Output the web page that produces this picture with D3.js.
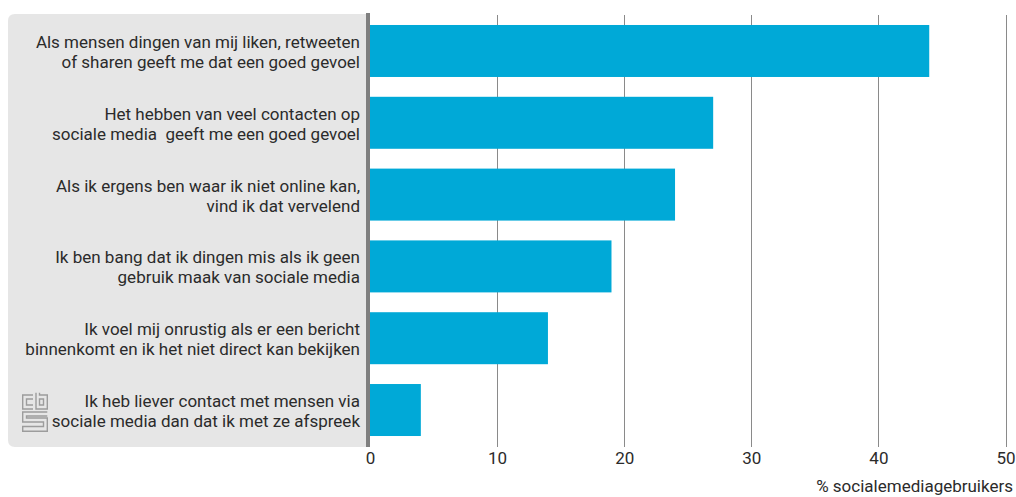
<!DOCTYPE html>
<html>
<head>
<meta charset="utf-8">
<script src="https://cdn.jsdelivr.net/npm/d3@7"></script>
<style>
  html, body { margin: 0; padding: 0; background: #fff; }
  svg { display: block; font-family: Roboto, "Noto Sans", sans-serif; }
  text { white-space: pre; }
</style>
</head>
<body>
<svg id="chart" width="1016" height="497"></svg>
<script>
// Statements (two lines each) and share of social media users agreeing (%)
const labelLine1 = [
  "Als mensen dingen van mij liken, retweeten",
  "Het hebben van veel contacten op",
  "Als ik ergens ben waar ik niet online kan,",
  "Ik ben bang dat ik dingen mis als ik geen",
  "Ik voel mij onrustig als er een bericht",
  "Ik heb liever contact met mensen via"
];
const labelLine2 = [
  "of sharen geeft me dat een goed gevoel",
  "sociale media  geeft me een goed gevoel",
  "vind ik dat vervelend",
  "gebruik maak van sociale media",
  "binnenkomt en ik het niet direct kan bekijken",
  "sociale media dan dat ik met ze afspreek"
];
const values = [44, 27, 24, 19, 14, 4];
const ticks = [0, 10, 20, 30, 40, 50];
const axisTitle = "% socialemediagebruikers";

const svg = d3.select("#chart");
const ids = values.map((_, i) => i);
const fs = 17;

const x = d3.scaleLinear().domain([0, 50]).range([370, 1005.5]);
const y = d3.scaleBand().domain(ids).range([14, 447])
  .paddingInner(0.276).paddingOuter(0.153);

// Grey label panel with rounded left corners
const px0 = 8, px1 = 367, py0 = 14, py1 = 447, r = 7;
svg.append("path")
  .attr("d", `M${px1},${py0} H${px0 + r} Q${px0},${py0} ${px0},${py0 + r} V${py1 - r} Q${px0},${py1} ${px0 + r},${py1} H${px1} Z`)
  .attr("fill", "#e6e6e6");

// Vertical gridlines
svg.append("g").selectAll("line")
  .data(ticks.filter(t => t > 0))
  .join("line")
  .attr("x1", d => Math.round(x(d)) + 0.5).attr("x2", d => Math.round(x(d)) + 0.5)
  .attr("y1", 15).attr("y2", 447)
  .attr("stroke", "#8a8a8a").attr("stroke-width", 1);

// Bars
svg.append("g").selectAll("rect")
  .data(values)
  .join("rect")
  .attr("x", x(0))
  .attr("y", (d, i) => y(i))
  .attr("width", d => x(d) - x(0))
  .attr("height", y.bandwidth())
  .attr("fill", "#00a9d7");

// Baseline axis
svg.append("line")
  .attr("x1", 368).attr("x2", 368)
  .attr("y1", 13).attr("y2", 447)
  .attr("stroke", "#7f7f7f").attr("stroke-width", 4);

// Category labels
const lab = svg.append("g")
  .attr("font-size", fs).attr("fill", "#2b2b2b").attr("text-anchor", "end");
ids.forEach(i => {
  const cy = y(i) + y.bandwidth() / 2;
  lab.append("text").attr("x", 360).attr("y", cy - 3).text(labelLine1[i]);
  lab.append("text").attr("x", 360).attr("y", cy + 17).text(labelLine2[i]);
});

// X axis tick labels
const xAxis = d3.axisBottom(x).tickValues(ticks).tickSize(0).tickPadding(0).tickFormat(d3.format("d"));
const ax = svg.append("g").attr("transform", "translate(0,452)").call(xAxis);
ax.select(".domain").remove();
ax.selectAll("text")
  .attr("font-size", fs).attr("fill", "#2b2b2b")
  .attr("font-family", "Roboto, 'Noto Sans', sans-serif");

// Axis title
svg.append("text")
  .attr("x", 1013).attr("y", 492)
  .attr("text-anchor", "end").attr("font-size", fs).attr("fill", "#2b2b2b")
  .text(axisTitle);

// Logo mark
const logo = svg.append("g")
  .attr("transform", "translate(22,392)")
  .attr("fill", "none").attr("stroke", "#9c9c9c").attr("stroke-width", 1.4);
logo.append("path").attr("d", "M11,3 H0.7 V17 H11 M11,7 H4.5 V13 H11");
logo.append("path").attr("d", "M14,0.7 V17 H25.3 V3 H17.5 V0.7 M17.5,7 V13 H21.5 V7 Z");
logo.append("path").attr("d",
  "M25.3,20 H0.7 V30 H21.5 V34.5 H0.7 V39.3 H25.3 V26 H4.5 V24 H25.3");
</script>
</body>
</html>
